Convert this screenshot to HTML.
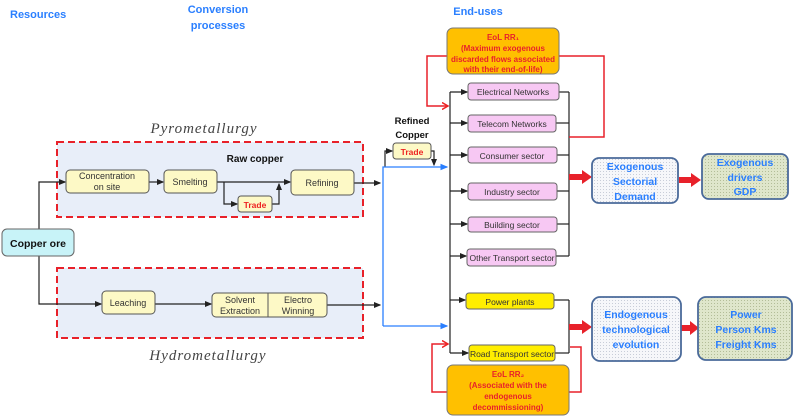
<!DOCTYPE html>
<html><head><meta charset="utf-8"><style>
html,body{margin:0;padding:0;background:#fff;}
svg{display:block;}
text{font-family:"Liberation Sans",sans-serif;}
</style></head><body>
<svg width="798" height="416" viewBox="0 0 798 416" xmlns="http://www.w3.org/2000/svg">
<defs>
<marker id="ab" markerWidth="6" markerHeight="6" refX="5" refY="3" orient="auto"><path d="M0,0.5 L6,3 L0,5.5z" fill="#222"/></marker>
<marker id="abl" markerWidth="6" markerHeight="6" refX="5" refY="3" orient="auto"><path d="M0,0.5 L6,3 L0,5.5z" fill="#2a7fff"/></marker>
<marker id="ar" markerUnits="userSpaceOnUse" markerWidth="8" markerHeight="8" refX="6" refY="4" orient="auto"><path d="M0,0.5 L6,4 L0,7.5" fill="none" stroke="#e22" stroke-width="1.5"/></marker>
<pattern id="dots" width="3" height="3" patternUnits="userSpaceOnUse"><rect width="3" height="3" fill="#f6f7fa"/><rect width="1" height="1" fill="#c8cdd8"/></pattern>
<pattern id="gdots" width="3" height="3" patternUnits="userSpaceOnUse"><rect width="3" height="3" fill="#dfe6cb"/><rect width="1" height="1" fill="#b3bd98"/></pattern>
</defs>

<g fill="#2a7fff" font-weight="bold" font-size="11">
<text x="10" y="18">Resources</text>
<text x="218" y="13" text-anchor="middle">Conversion</text>
<text x="218" y="29" text-anchor="middle">processes</text>
<text x="478" y="15" text-anchor="middle">End-uses</text>
</g>

<rect x="57" y="142" width="306" height="75" fill="#e8eef9" stroke="#e8212a" stroke-width="2" stroke-dasharray="7,4"/>
<rect x="57" y="268" width="306" height="70" fill="#e8eef9" stroke="#e8212a" stroke-width="2" stroke-dasharray="7,4"/>
<text x="204" y="133" text-anchor="middle" style="font-family:'Liberation Serif',serif;font-style:italic" font-size="15" fill="#444" letter-spacing="1">Pyrometallurgy</text>
<text x="208" y="360" text-anchor="middle" style="font-family:'Liberation Serif',serif;font-style:italic" font-size="15" fill="#444" letter-spacing="1">Hydrometallurgy</text>
<text x="255" y="162" text-anchor="middle" font-size="10" font-weight="bold" fill="#111">Raw copper</text>

<g stroke="#222" stroke-width="1.2" fill="none">
<path d="M39,229 V182 H65" marker-end="url(#ab)"/>
<path d="M39,256 V304 H101" marker-end="url(#ab)"/>
<path d="M149,182 H163" marker-end="url(#ab)"/>
<path d="M217,182 H290" marker-end="url(#ab)"/>
<path d="M224,182 V204 H237" marker-end="url(#ab)"/>
<path d="M272,204 H279 V184" marker-end="url(#ab)"/>
<path d="M354,183 H380" marker-end="url(#ab)"/>
<path d="M155,304 H211" marker-end="url(#ab)"/>
<path d="M327,305 H380" marker-end="url(#ab)"/>
<path d="M385,167 V151 H392" marker-end="url(#ab)"/>
<path d="M431,151 H434 V165" marker-end="url(#ab)"/>
</g>

<g stroke="#555" stroke-width="1" fill="#fdf9c6">
<rect x="66" y="170" width="83" height="23" rx="4"/>
<rect x="164" y="170" width="53" height="23" rx="4"/>
<rect x="291" y="170" width="63" height="25" rx="4"/>
<rect x="238" y="196" width="34" height="16" rx="3"/>
<rect x="102" y="291" width="53" height="23" rx="4"/>
<rect x="212" y="293" width="115" height="24" rx="4"/>
<rect x="393" y="143" width="38" height="16" rx="3"/>
</g>
<line x1="268" y1="293" x2="268" y2="317" stroke="#555"/>
<rect x="2" y="229" width="72" height="27" rx="5" fill="#c8f3f8" stroke="#666"/>
<g font-size="9" fill="#333" text-anchor="middle">
<text x="107" y="179">Concentration</text>
<text x="107" y="190">on site</text>
<text x="190" y="185">Smelting</text>
<text x="322" y="186">Refining</text>
<text x="128" y="306">Leaching</text>
<text x="240" y="303">Solvent</text>
<text x="240" y="314">Extraction</text>
<text x="298" y="303">Electro</text>
<text x="298" y="314">Winning</text>
</g>
<text x="255" y="208" text-anchor="middle" font-size="8.5" font-weight="bold" fill="#e22">Trade</text>
<text x="412" y="155" text-anchor="middle" font-size="8.5" font-weight="bold" fill="#e22">Trade</text>
<text x="38" y="247" text-anchor="middle" font-size="10.5" font-weight="bold" fill="#111">Copper ore</text>
<text x="412" y="124" text-anchor="middle" font-size="9.5" font-weight="bold" fill="#111">Refined</text>
<text x="412" y="138" text-anchor="middle" font-size="9.5" font-weight="bold" fill="#111">Copper</text>

<g stroke="#2a7fff" stroke-width="1.3" fill="none">
<path d="M383,326 V167 H447" marker-end="url(#abl)"/>
<path d="M383,326 H447" marker-end="url(#abl)"/>
</g>

<g stroke="#222" stroke-width="1.2" fill="none">
<path d="M450,92 V353"/>
<path d="M450,92 H467" marker-end="url(#ab)"/>
<path d="M450,123 H467" marker-end="url(#ab)"/>
<path d="M450,155 H467" marker-end="url(#ab)"/>
<path d="M450,191 H467" marker-end="url(#ab)"/>
<path d="M450,224 H467" marker-end="url(#ab)"/>
<path d="M450,256 H466" marker-end="url(#ab)"/>
<path d="M450,300 H465" marker-end="url(#ab)"/>
<path d="M450,353 H468" marker-end="url(#ab)"/>
<path d="M569,92 V256"/>
<path d="M559,92 H569"/><path d="M556,123 H569"/><path d="M557,155 H569"/><path d="M557,191 H569"/><path d="M557,224 H569"/><path d="M556,256 H569"/>
<path d="M569,300 V353"/>
<path d="M554,300 H569"/><path d="M555,353 H569"/>
</g>

<g stroke="#e8212a" stroke-width="1.5" fill="none">
<path d="M447,56 H427 V106 H448" marker-end="url(#ar)"/>
<path d="M559,56 H604 V137 H569"/>
<path d="M447,392 H432 V344 H448" marker-end="url(#ar)"/>
<path d="M569,392 H581 V347 H570"/>
</g>

<g stroke="#666" stroke-width="1" fill="#f7c8f3">
<rect x="468" y="83" width="91" height="17" rx="3"/>
<rect x="468" y="115" width="88" height="17" rx="3"/>
<rect x="468" y="147" width="89" height="16" rx="3"/>
<rect x="468" y="183" width="89" height="17" rx="3"/>
<rect x="468" y="217" width="89" height="15" rx="3"/>
<rect x="467" y="249" width="89" height="17" rx="3"/>
</g>
<g stroke="#666" stroke-width="1" fill="#ffee00">
<rect x="466" y="293" width="88" height="16" rx="3"/>
<rect x="469" y="345" width="86" height="16" rx="3"/>
</g>
<g font-size="8.5" fill="#333" text-anchor="middle">
<text x="513" y="95">Electrical Networks</text>
<text x="512" y="127">Telecom Networks</text>
<text x="512" y="159">Consumer sector</text>
<text x="512" y="195">Industry sector</text>
<text x="512" y="228">Building sector</text>
<text x="512" y="261">Other Transport sector</text>
<text x="510" y="305">Power plants</text>
<text x="512" y="357">Road Transport sector</text>
</g>

<rect x="447" y="28" width="112" height="46" rx="6" fill="#ffc000" stroke="#777"/>
<g font-size="8" font-weight="bold" fill="#e8212a" text-anchor="middle">
<text x="503" y="40">EoL RR₁</text>
<text x="503" y="51">(Maximum exogenous</text>
<text x="503" y="62">discarded flows associated</text>
<text x="503" y="72">with their end-of-life)</text>
</g>
<rect x="447" y="365" width="122" height="50" rx="6" fill="#ffc000" stroke="#777"/>
<g font-size="8" font-weight="bold" fill="#e8212a" text-anchor="middle">
<text x="508" y="377">EoL RR₂</text>
<text x="508" y="388">(Associated with the</text>
<text x="508" y="399">endogenous</text>
<text x="508" y="410">decommissioning)</text>
</g>

<g fill="#e8212a">
<path d="M569,174 H582 V170 L592,177 L582,184 V180 H569z"/>
<path d="M679,177 H691 V173 L701,180 L691,187 V183 H679z"/>
<path d="M569,324 H582 V320 L592,327 L582,334 V330 H569z"/>
<path d="M681,325 H690 V321 L699,328 L690,335 V331 H681z"/>
</g>

<g stroke="#4a6a9a" stroke-width="1.8">
<rect x="592" y="158" width="86" height="45" rx="7" fill="url(#dots)"/>
<rect x="702" y="154" width="86" height="45" rx="7" fill="url(#gdots)"/>
<rect x="592" y="297" width="89" height="64" rx="8" fill="url(#dots)"/>
<rect x="698" y="297" width="94" height="63" rx="8" fill="url(#gdots)"/>
</g>
<g font-size="10.5" font-weight="bold" fill="#2a7fff" text-anchor="middle">
<text x="635" y="170">Exogenous</text>
<text x="635" y="185">Sectorial</text>
<text x="635" y="200">Demand</text>
<text x="745" y="166">Exogenous</text>
<text x="745" y="181">drivers</text>
<text x="745" y="195">GDP</text>
<text x="636" y="318">Endogenous</text>
<text x="636" y="333">technological</text>
<text x="636" y="348">evolution</text>
<text x="746" y="318">Power</text>
<text x="746" y="333">Person Kms</text>
<text x="746" y="348">Freight Kms</text>
</g>
</svg>
</body></html>
